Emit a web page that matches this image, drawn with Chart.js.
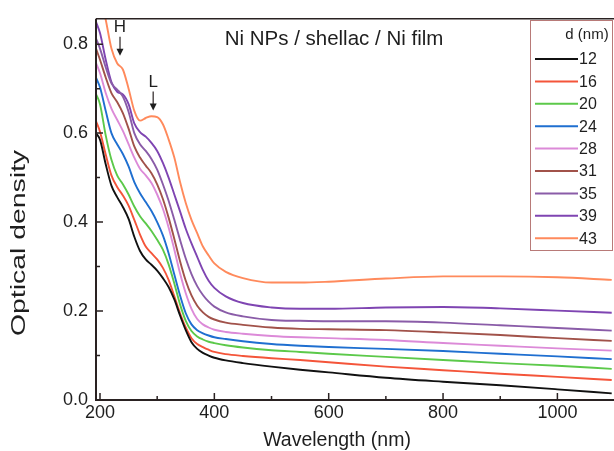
<!DOCTYPE html>
<html>
<head>
<meta charset="utf-8">
<script src="https://cdn.jsdelivr.net/npm/chart.js@4.4.0/dist/chart.umd.min.js"></script>
<style>
  html, body { margin: 0; padding: 0; background: #fff; }
  #wrap { width: 614px; height: 451px; }
</style>
</head>
<body>
<div id="wrap"><canvas id="chart" width="614" height="451"></canvas></div>
<script>
// wavelength grid (nm) shared by all spectra
const wavelengths = [193, 200, 210, 220, 230, 240, 250, 260, 270, 280, 290, 300, 310, 320, 330, 340, 350, 360, 370, 380, 390, 400, 420, 450, 500, 550, 600, 700, 800, 900, 1000, 1095];

// optical density for each Ni film thickness d (nm)
const od12 = [0.600, 0.585, 0.530, 0.482, 0.456, 0.434, 0.407, 0.367, 0.335, 0.316, 0.304, 0.291, 0.274, 0.254, 0.226, 0.190, 0.157, 0.130, 0.115, 0.106, 0.100, 0.095, 0.089, 0.083, 0.075, 0.068, 0.062, 0.050, 0.041, 0.033, 0.024, 0.015];
const od16 = [0.627, 0.603, 0.552, 0.505, 0.479, 0.460, 0.437, 0.405, 0.372, 0.345, 0.330, 0.316, 0.297, 0.270, 0.233, 0.195, 0.163, 0.139, 0.126, 0.119, 0.113, 0.108, 0.103, 0.099, 0.094, 0.090, 0.085, 0.075, 0.067, 0.059, 0.052, 0.045];
const od20 = [0.688, 0.665, 0.595, 0.540, 0.505, 0.485, 0.462, 0.435, 0.413, 0.397, 0.380, 0.360, 0.338, 0.305, 0.262, 0.215, 0.178, 0.155, 0.143, 0.136, 0.131, 0.128, 0.123, 0.118, 0.112, 0.108, 0.104, 0.097, 0.090, 0.083, 0.077, 0.070];
const od24 = [0.725, 0.703, 0.650, 0.600, 0.575, 0.553, 0.525, 0.490, 0.465, 0.445, 0.425, 0.400, 0.370, 0.330, 0.282, 0.235, 0.195, 0.170, 0.157, 0.150, 0.145, 0.141, 0.137, 0.132, 0.126, 0.122, 0.119, 0.115, 0.110, 0.104, 0.098, 0.092];
const od28 = [0.758, 0.735, 0.690, 0.655, 0.630, 0.605, 0.575, 0.545, 0.520, 0.505, 0.488, 0.462, 0.430, 0.388, 0.338, 0.285, 0.240, 0.205, 0.182, 0.170, 0.163, 0.158, 0.153, 0.149, 0.144, 0.141, 0.139, 0.135, 0.128, 0.122, 0.116, 0.111];
const od31 = [0.790, 0.765, 0.725, 0.690, 0.670, 0.645, 0.610, 0.570, 0.545, 0.527, 0.510, 0.485, 0.452, 0.410, 0.362, 0.312, 0.268, 0.235, 0.212, 0.197, 0.187, 0.181, 0.174, 0.169, 0.163, 0.160, 0.159, 0.157, 0.152, 0.146, 0.139, 0.133];
const od35 = [0.813, 0.790, 0.748, 0.712, 0.698, 0.682, 0.648, 0.600, 0.575, 0.560, 0.542, 0.518, 0.485, 0.448, 0.405, 0.360, 0.318, 0.283, 0.256, 0.236, 0.221, 0.210, 0.197, 0.188, 0.180, 0.178, 0.177, 0.177, 0.174, 0.168, 0.162, 0.156];
const od39 = [0.850, 0.825, 0.765, 0.715, 0.693, 0.687, 0.665, 0.622, 0.602, 0.592, 0.578, 0.560, 0.533, 0.500, 0.462, 0.424, 0.385, 0.352, 0.322, 0.292, 0.268, 0.252, 0.233, 0.218, 0.208, 0.205, 0.205, 0.208, 0.209, 0.206, 0.201, 0.196];
const od43 = [0.950, 0.910, 0.855, 0.790, 0.757, 0.743, 0.700, 0.650, 0.628, 0.634, 0.638, 0.636, 0.620, 0.586, 0.545, 0.490, 0.443, 0.405, 0.375, 0.345, 0.325, 0.307, 0.288, 0.274, 0.264, 0.264, 0.266, 0.273, 0.278, 0.278, 0.276, 0.270];

const thicknesses = ['12', '16', '20', '24', '28', '31', '35', '39', '43'];
const seriesValues = [od12, od16, od20, od24, od28, od31, od35, od39, od43];
const lineColors = ['#111111', '#f4553a', '#5cc94a', '#1f6fd0', '#dc8ad8', '#a1524a', '#8a5ca8', '#7f45b2', '#ff8a5c'];

const xTickLabels = [200, 400, 600, 800, 1000];
const xMinorTicks = [300, 500, 700, 900];
const yTickLabels = [0, 0.2, 0.4, 0.6, 0.8];
const yMinorTicks = [0.1, 0.3, 0.5, 0.7];

const peakMarks = [
  { text: 'H', wl: 235, od: 0.774 },
  { text: 'L', wl: 293, od: 0.651 }
];

const FONT = "'Liberation Sans', Arial, sans-serif";
const INK = '#2a2222';
const TEXT = '#1e1e1e';

const framePlugin = {
  id: 'frame',
  afterDatasetsDraw(chart) {
    const { ctx, chartArea: a, scales: { x, y } } = chart;
    ctx.save();

    // axes frame (right side is cut off in the original)
    ctx.strokeStyle = INK;
    ctx.lineWidth = 2;
    ctx.beginPath();
    ctx.moveTo(a.left, a.top);
    ctx.lineTo(a.left, a.bottom);
    ctx.lineTo(a.right, a.bottom);
    ctx.stroke();
    ctx.lineWidth = 1.5;
    ctx.beginPath();
    ctx.moveTo(a.left, a.top);
    ctx.lineTo(a.right, a.top);
    ctx.stroke();

    // inward ticks
    ctx.lineWidth = 1.5;
    ctx.beginPath();
    xTickLabels.forEach(v => { const px = x.getPixelForValue(v); ctx.moveTo(px, a.bottom); ctx.lineTo(px, a.bottom - 7); });
    xMinorTicks.forEach(v => { const px = x.getPixelForValue(v); ctx.moveTo(px, a.bottom); ctx.lineTo(px, a.bottom - 4); });
    yTickLabels.forEach(v => { const py = y.getPixelForValue(v); ctx.moveTo(a.left, py); ctx.lineTo(a.left + 7, py); });
    yMinorTicks.forEach(v => { const py = y.getPixelForValue(v); ctx.moveTo(a.left, py); ctx.lineTo(a.left + 4, py); });
    ctx.stroke();

    // axis titles
    ctx.fillStyle = TEXT;
    ctx.textAlign = 'center';
    ctx.textBaseline = 'middle';
    ctx.font = '19.5px ' + FONT;
    ctx.fillText('Wavelength (nm)', 337, 441);

    ctx.save();
    ctx.translate(20, 243);
    ctx.rotate(-Math.PI / 2);
    const yTitle = 'Optical density';
    ctx.scale(186 / ctx.measureText(yTitle).width, 1);
    ctx.fillText(yTitle, 0, 0);
    ctx.restore();

    // inner caption
    ctx.font = '20.5px ' + FONT;
    ctx.fillText('Ni NPs / shellac / Ni film', 334, 39);

    // H / L markers with arrows
    peakMarks.forEach(m => {
      const px = x.getPixelForValue(m.wl);
      const py = y.getPixelForValue(m.od);
      ctx.font = '17px ' + FONT;
      ctx.fillText(m.text, px, py - 28);
      ctx.lineWidth = 1.2;
      ctx.beginPath();
      ctx.moveTo(px, py - 19);
      ctx.lineTo(px, py - 5);
      ctx.stroke();
      ctx.beginPath();
      ctx.moveTo(px - 3.5, py - 7);
      ctx.lineTo(px + 3.5, py - 7);
      ctx.lineTo(px, py);
      ctx.closePath();
      ctx.fill();
    });

    // legend box
    const bx = 530, by = 20, bw = 82, bh = 230;
    ctx.fillStyle = '#fff';
    ctx.fillRect(bx, by, bw, bh);
    ctx.strokeStyle = '#b87a78';
    ctx.lineWidth = 1;
    ctx.strokeRect(bx + 0.5, by + 0.5, bw, bh);
    ctx.fillStyle = TEXT;
    ctx.font = '15px ' + FONT;
    ctx.textAlign = 'center';
    ctx.fillText('d (nm)', 587, 35);
    ctx.font = '16px ' + FONT;
    ctx.textAlign = 'left';
    thicknesses.forEach((t, i) => {
      const ry = 59 + i * 22.4;
      ctx.strokeStyle = lineColors[i];
      ctx.lineWidth = 2;
      ctx.beginPath();
      ctx.moveTo(535, ry);
      ctx.lineTo(578, ry);
      ctx.stroke();
      ctx.fillText(t, 579, ry + 1);
    });
    ctx.restore();
  }
};

new Chart(document.getElementById('chart'), {
  type: 'line',
  data: {
    datasets: thicknesses.map((t, i) => ({
      label: t,
      data: wavelengths.map((w, j) => ({ x: w, y: seriesValues[i][j] })),
      borderColor: lineColors[i],
      borderWidth: 1.9,
      pointRadius: 0,
      fill: false,
      cubicInterpolationMode: 'monotone'
    }))
  },
  options: {
    responsive: false,
    animation: false,
    devicePixelRatio: 1,
    layout: { padding: { top: 10, right: 0, left: 0, bottom: 0 } },
    plugins: {
      legend: { display: false },
      tooltip: { enabled: false }
    },
    scales: {
      x: {
        type: 'linear',
        min: 193,
        max: 1099,
        grid: { display: false, drawTicks: false },
        border: { display: false },
        afterBuildTicks: s => { s.ticks = xTickLabels.map(v => ({ value: v })); },
        afterFit: s => { s.height = 51; },
        ticks: {
          color: TEXT,
          padding: 2,
          maxRotation: 0,
          font: { family: FONT, size: 18 },
          callback: v => String(v)
        }
      },
      y: {
        min: 0,
        max: 0.857,
        grid: { display: false, drawTicks: false },
        border: { display: false },
        afterBuildTicks: s => { s.ticks = yTickLabels.map(v => ({ value: v })); },
        afterFit: s => { s.width = 96; },
        ticks: {
          color: TEXT,
          padding: 8,
          font: { family: FONT, size: 18 },
          callback: v => v.toFixed(1)
        }
      }
    }
  },
  plugins: [framePlugin]
});
</script>
</body>
</html>
